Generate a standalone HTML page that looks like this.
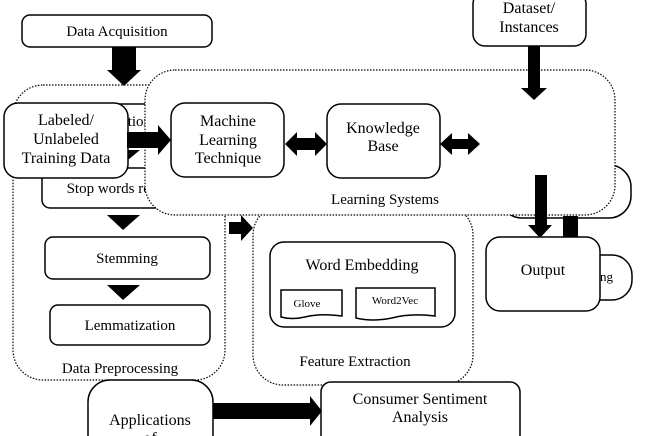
<!DOCTYPE html>
<html><head><style>html,body{margin:0;background:#fff;overflow:hidden;width:654px;height:436px}svg{display:block}text{font-family:"Liberation Serif",serif;fill:#000}</style></head>
<body>
<svg width="654" height="436" viewBox="0 0 654 436" xmlns="http://www.w3.org/2000/svg">
<g fill="#fff" stroke="#000" stroke-width="1.5">
<rect x="22" y="15" width="190" height="32" rx="8"/>
<rect x="13" y="85" width="212" height="295" rx="30" stroke-dasharray="1.5 1.5" stroke-width="1.2"/>
<rect x="253" y="205" width="220" height="180" rx="30" stroke-dasharray="1.5 1.5" stroke-width="1.2"/>
<rect x="42" y="104" width="140" height="40" rx="8"/>
<rect x="42" y="168" width="150" height="40" rx="8"/>
<rect x="45" y="237" width="165" height="42" rx="8"/>
<rect x="50" y="305" width="160" height="40" rx="8"/>
<rect x="500" y="165" width="131" height="53" rx="22"/>
<rect x="560" y="255" width="72" height="45" rx="20"/>
</g>
<text x="117" y="36" font-size="15" text-anchor="middle">Data Acquisition</text>
<text x="112" y="126" font-size="15" text-anchor="middle">Tokenization</text>
<text x="127" y="193" font-size="15" text-anchor="middle">Stop words removal</text>
<text x="127" y="263" font-size="15" text-anchor="middle">Stemming</text>
<text x="130" y="330" font-size="15" text-anchor="middle">Lemmatization</text>
<text x="120" y="373" font-size="15" text-anchor="middle">Data Preprocessing</text>
<text x="355" y="366" font-size="15" text-anchor="middle">Feature Extraction</text>
<g fill="#000">
<polygon points="112,47 136,47 136,70 141,70 124,86 107,70 112,70"/>
<polygon points="106,150 140,150 123,164"/>
<polygon points="107,215 140,215 123,230"/>
<polygon points="107,285 140,285 123,300"/>
<polygon points="229,222 241,222 241,215 253,228 241,241 241,234 229,234"/>
</g>
<g fill="#fff" stroke="#000" stroke-width="1.5">
<rect x="270" y="242" width="185" height="85" rx="14"/>
<path d="M281 290 H342 V316 Q320 313 305 317 Q292 320 281 317 Z"/>
<path d="M356 288 H435 V316 Q410 313 392 318 Q372 322 356 318 Z"/>
</g>
<text x="362" y="270" font-size="16" text-anchor="middle">Word Embedding</text>
<text x="307" y="307" font-size="11" text-anchor="middle">Glove</text>
<text x="395" y="304" font-size="11" text-anchor="middle">Word2Vec</text>
<rect x="145" y="70" width="470" height="145" rx="30" fill="#fff" stroke="#000" stroke-width="1.2" stroke-dasharray="1.5 1.5"/>
<g fill="#fff" stroke="#000" stroke-width="1.5">
<rect x="4" y="103" width="124" height="75" rx="14"/>
<rect x="171" y="103" width="113" height="74" rx="14"/>
<rect x="327" y="104" width="113" height="74" rx="14"/>
<rect x="473" y="-8" width="113" height="54" rx="12"/>
</g>
<text x="66" y="125" font-size="16" text-anchor="middle">Labeled/</text>
<text x="66" y="144" font-size="16" text-anchor="middle">Unlabeled</text>
<text x="66" y="163" font-size="16" text-anchor="middle">Training Data</text>
<text x="228" y="126" font-size="16" text-anchor="middle">Machine</text>
<text x="228" y="145" font-size="16" text-anchor="middle">Learning</text>
<text x="228" y="163" font-size="16" text-anchor="middle">Technique</text>
<text x="383" y="133" font-size="16" text-anchor="middle">Knowledge</text>
<text x="383" y="151" font-size="16" text-anchor="middle">Base</text>
<text x="385" y="204" font-size="15" text-anchor="middle">Learning Systems</text>
<text x="529" y="13" font-size="16" text-anchor="middle">Dataset/</text>
<text x="529" y="32" font-size="16" text-anchor="middle">Instances</text>
<g fill="#000">
<polygon points="127,132 158,132 158,125 171,140 158,155 158,148 127,148"/>
<polygon points="285,144 297,132 297,138 315,138 315,132 327,144 315,156 315,150 297,150 297,156"/>
<polygon points="440,144 452,133 452,139 468,139 468,133 480,144 468,155 468,149 452,149 452,155"/>
<polygon points="528,46 540,46 540,88 547,88 534,100 521,88 528,88"/>
<polygon points="535,175 547,175 547,225 552,225 540,238 528,225 535,225"/>
<rect x="563" y="216" width="15" height="22"/>
<polygon points="213,403 310,403 310,396 322,411 310,426 310,419 213,419"/>
</g>
<rect x="486" y="237" width="114" height="74" rx="14" fill="#fff" stroke="#000" stroke-width="1.5"/>
<text x="543" y="275" font-size="16" text-anchor="middle">Output</text>
<text x="600" y="281" font-size="13">ng</text>
<g fill="#fff" stroke="#000" stroke-width="1.5">
<rect x="88" y="380" width="125" height="80" rx="22"/>
<rect x="321" y="382" width="199" height="70" rx="10"/>
</g>
<text x="150" y="425" font-size="16" text-anchor="middle">Applications</text>
<text x="150" y="443" font-size="16" text-anchor="middle">of</text>
<text x="420" y="404" font-size="16" text-anchor="middle">Consumer Sentiment</text>
<text x="420" y="422" font-size="16" text-anchor="middle">Analysis</text>
</svg>
</body></html>
